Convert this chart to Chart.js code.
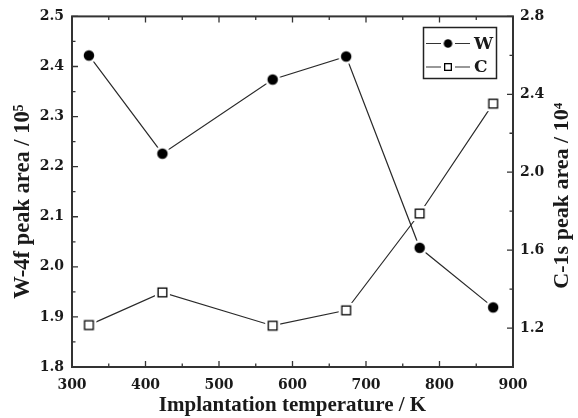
<!DOCTYPE html>
<html><head><meta charset="utf-8">
<script src="https://cdn.jsdelivr.net/npm/chart.js@4/dist/chart.umd.min.js"></script>
<style>html,body{margin:0;padding:0;background:#fff}#wrap{width:578px;height:418px;position:relative}</style>
</head><body><div id="wrap"><canvas id="c"></canvas></div>
<script>
// ---- data ----
const temperatures = [323, 423, 573, 673, 773, 873];
const wArea = [2.422, 2.226, 2.374, 2.420, 2.038, 1.919];
const cArea = [1.215, 1.383, 1.212, 1.291, 1.788, 2.352];
const seriesLabels = ['W', 'C'];
const xTickValues = [300, 400, 500, 600, 700, 800, 900];
const leftTickValues = [1.8, 1.9, 2.0, 2.1, 2.2, 2.3, 2.4, 2.5];
const rightTickValues = [1.2, 1.6, 2.0, 2.4, 2.8];
const xTitle = 'Implantation temperature / K';
const leftTitle = 'W-4f peak area / 10\u2075';
const rightTitle = 'C-1s peak area / 10\u2074';

// ---- styling ----
const INK = '#1a1a1a';
const AXIS = '#333';
const TICK_FONT = {family: '"DejaVu Serif"', weight: 'bold', size: 14};
const TITLE_FAMILY = '"Liberation Serif"';

function markerCanvas(kind, size, halo) {
  const s = Math.ceil(size + 2 * halo + 2);
  const cv = document.createElement('canvas');
  cv.width = s; cv.height = s;
  const g = cv.getContext('2d');
  const c = s / 2;
  g.fillStyle = '#fff';
  if (kind === 'circle') {
    g.beginPath(); g.arc(c, c, size / 2 + halo, 0, Math.PI * 2); g.fill();
    g.fillStyle = '#000';
    g.beginPath(); g.arc(c, c, size / 2, 0, Math.PI * 2); g.fill();
  } else {
    g.fillRect(c - size / 2 - halo, c - size / 2 - halo, size + 2 * halo, size + 2 * halo);
    g.strokeStyle = '#000'; g.lineWidth = 1.3;
    g.strokeRect(c - size / 2 + 0.65, c - size / 2 + 0.65, size - 1.3, size - 1.3);
  }
  return cv;
}
const wMarker = markerCanvas('circle', 10.5, 2.5);
const cMarker = markerCanvas('square', 10, 2.5);
const wLegMarker = markerCanvas('circle', 8.5, 0);
const cLegMarker = markerCanvas('square', 8, 0);

function verticalText(ctx, text, x, y) {
  ctx.save();
  ctx.translate(x, y);
  ctx.rotate(-Math.PI / 2);
  ctx.textAlign = 'center'; ctx.textBaseline = 'middle';
  ctx.fillText(text, 0, 0);
  ctx.restore();
}

const framePlugin = {
  id: 'frame',
  afterDraw(chart) {
    const ctx = chart.ctx;
    const a = chart.chartArea;
    const xs = chart.scales.x, yl = chart.scales.y, yr = chart.scales.y2;
    ctx.save();
    ctx.strokeStyle = AXIS;
    // ticks
    ctx.lineWidth = 1.3;
    ctx.beginPath();
    for (let v = xs.min; v <= xs.max + 1e-6; v += 50) {
      const p = xs.getPixelForValue(v);
      const L = (Math.round(v) % 100 === 0) ? 6 : 3.5;
      ctx.moveTo(p, a.bottom); ctx.lineTo(p, a.bottom - L);
      ctx.moveTo(p, a.top); ctx.lineTo(p, a.top + L);
    }
    for (let i = 0; i <= 14; i++) {
      const v = yl.min + i * 0.05;
      const p = yl.getPixelForValue(v);
      const L = (i % 2 === 0) ? 6 : 3.5;
      ctx.moveTo(a.left, p); ctx.lineTo(a.left + L, p);
    }
    for (let i = 0; i <= 9; i++) {
      const v = yr.min + i * 0.2;
      const p = yr.getPixelForValue(v);
      const L = (i % 2 === 1) ? 6 : 3.5;
      ctx.moveTo(a.right, p); ctx.lineTo(a.right - L, p);
    }
    ctx.stroke();
    // frame
    ctx.lineWidth = 2;
    ctx.strokeRect(a.left, a.top, a.right - a.left, a.bottom - a.top);

    // axis titles (read bottom-to-top)
    ctx.fillStyle = INK;
    ctx.font = 'bold 22.5px ' + TITLE_FAMILY;
    verticalText(ctx, leftTitle, 23, (a.top + a.bottom) / 2 + 10);
    ctx.font = 'bold 22px ' + TITLE_FAMILY;
    verticalText(ctx, rightTitle, 562, (a.top + a.bottom) / 2 + 4);

    // legend
    const bx = 423.5, by = 27.5, bw = 73, bh = 51;
    ctx.lineWidth = 1.5;
    ctx.strokeStyle = '#222';
    ctx.strokeRect(bx, by, bw, bh);
    const rows = [[43.5, wLegMarker], [67, cLegMarker]];
    ctx.font = 'bold 17px "DejaVu Serif"';
    ctx.textAlign = 'left'; ctx.textBaseline = 'middle';
    ctx.lineWidth = 1.2;
    chart.data.datasets.forEach((ds, i) => {
      const [ry, mk] = rows[i];
      ctx.beginPath();
      ctx.moveTo(426, ry); ctx.lineTo(441, ry);
      ctx.moveTo(455, ry); ctx.lineTo(470, ry);
      ctx.strokeStyle = '#333';
      ctx.stroke();
      ctx.drawImage(mk, 448 - mk.width / 2, ry - mk.height / 2);
      ctx.fillStyle = INK;
      ctx.fillText(ds.label, 474, ry + 1);
    });
    ctx.restore();
  }
};

new Chart(document.getElementById('c'), {
  type: 'line',
  data: {
    datasets: [
      {
        label: seriesLabels[0],
        data: temperatures.map((t, i) => ({x: t, y: wArea[i]})),
        yAxisID: 'y',
        borderColor: '#2a2a2a', borderWidth: 1.2,
        pointStyle: wMarker, pointRadius: 6,
        tension: 0
      },
      {
        label: seriesLabels[1],
        data: temperatures.map((t, i) => ({x: t, y: cArea[i]})),
        yAxisID: 'y2',
        borderColor: '#2a2a2a', borderWidth: 1.2,
        pointStyle: cMarker, pointRadius: 6,
        tension: 0
      }
    ]
  },
  options: {
    responsive: true,
    maintainAspectRatio: false,
    animation: false,
    events: [],
    layout: {padding: {top: 16, left: 0, right: 0, bottom: 0}},
    plugins: {legend: {display: false}, tooltip: {enabled: false}},
    scales: {
      x: {
        type: 'linear', min: 300, max: 900,
        afterBuildTicks: s => { s.ticks = xTickValues.map(v => ({value: v})); },
        afterFit: s => { s.height = 51; },
        grid: {display: false, drawTicks: false},
        border: {display: false},
        ticks: {font: TICK_FONT, color: INK, padding: 10, maxRotation: 0},
        title: {display: true, text: xTitle, color: INK,
                font: {family: TITLE_FAMILY, weight: 'bold', size: 21}, padding: {top: 4, bottom: 0}}
      },
      y: {
        type: 'linear', position: 'left', min: 1.8, max: 2.5,
        afterBuildTicks: s => { s.ticks = leftTickValues.map(v => ({value: v})); },
        afterFit: s => { s.width = 72; },
        grid: {display: false, drawTicks: false},
        border: {display: false},
        ticks: {font: TICK_FONT, color: INK, padding: 8, callback: v => v.toFixed(1)}
      },
      y2: {
        type: 'linear', position: 'right', min: 1.0, max: 2.8,
        afterBuildTicks: s => { s.ticks = rightTickValues.map(v => ({value: v})); },
        afterFit: s => { s.width = 65; },
        grid: {display: false, drawTicks: false},
        border: {display: false},
        ticks: {font: TICK_FONT, color: INK, padding: 7, callback: v => v.toFixed(1)}
      }
    }
  },
  plugins: [framePlugin]
});
</script>
</body></html>
